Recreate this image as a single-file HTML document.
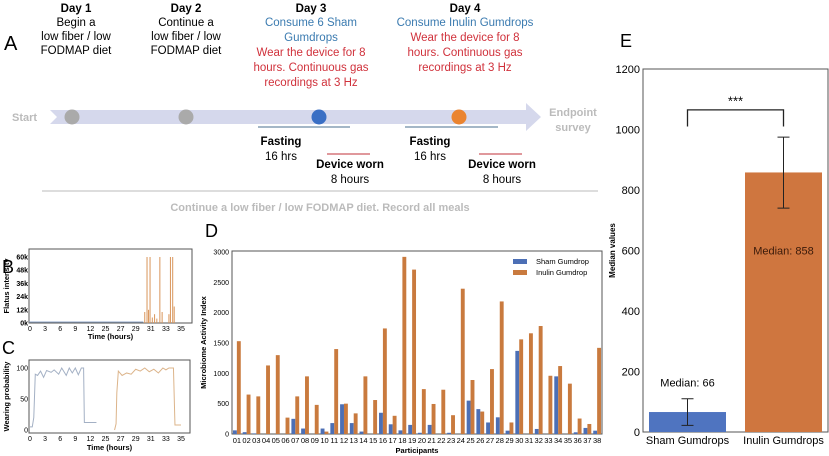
<!DOCTYPE html>
<html><head><meta charset="utf-8"><style>
body{margin:0;background:#fff;width:829px;height:456px;overflow:hidden;font-family:"Liberation Sans",sans-serif}
svg{position:absolute;left:0;top:0}
</style></head><body>
<svg id="s" width="829" height="456" viewBox="0 0 829 456" font-family="Liberation Sans, sans-serif">
<g>
<text x="4" y="50" font-size="20">A</text>
<g font-size="11.5" text-anchor="middle">
<text x="76" y="12" font-weight="bold">Day 1</text>
<text x="76" y="26">Begin a</text>
<text x="76" y="40">low fiber / low</text>
<text x="76" y="54">FODMAP diet</text>
<text x="186" y="12" font-weight="bold">Day 2</text>
<text x="186" y="26">Continue a</text>
<text x="186" y="40">low fiber / low</text>
<text x="186" y="54">FODMAP diet</text>
<text x="311" y="12" font-weight="bold">Day 3</text>
<text x="311" y="26" fill="#3b7bb0">Consume 6 Sham</text>
<text x="311" y="41" fill="#3b7bb0">Gumdrops</text>
<text x="311" y="56" fill="#d0313b">Wear the device for 8</text>
<text x="311" y="71" fill="#d0313b">hours. Continuous gas</text>
<text x="311" y="86" fill="#d0313b">recordings at 3 Hz</text>
<text x="465" y="12" font-weight="bold">Day 4</text>
<text x="465" y="26" fill="#3b7bb0">Consume Inulin Gumdrops</text>
<text x="465" y="41" fill="#d0313b">Wear the device for 8</text>
<text x="465" y="56" fill="#d0313b">hours. Continuous gas</text>
<text x="465" y="71" fill="#d0313b">recordings at 3 Hz</text>
</g>
<text x="12" y="121" font-size="11" font-weight="bold" fill="#bbb">Start</text>
<polygon points="50,110 526,110 526,103 541,117 526,131 526,124 50,124 57,117" fill="#d5d8ec"/>
<text x="573" y="116" font-size="11" font-weight="bold" fill="#bbb" text-anchor="middle">Endpoint</text>
<text x="573" y="131" font-size="11" font-weight="bold" fill="#bbb" text-anchor="middle">survey</text>
<circle cx="72" cy="117" r="7.5" fill="#aaa"/>
<circle cx="186" cy="117" r="7.5" fill="#aaa"/>
<circle cx="319" cy="117" r="7.5" fill="#3a6fc4"/>
<circle cx="459" cy="117" r="7.5" fill="#ea8430"/>
<g stroke="#4a6f8f" stroke-width="1"><line x1="258" y1="127" x2="350" y2="127"/><line x1="405" y1="127" x2="498" y2="127"/></g>
<g stroke="#c0303a" stroke-width="1"><line x1="327" y1="154" x2="370" y2="154"/><line x1="479" y1="154" x2="522" y2="154"/></g>
<g font-size="11.5" text-anchor="middle">
<text x="281" y="145" font-weight="bold">Fasting</text>
<text x="281" y="160">16 hrs</text>
<text x="350" y="168" font-weight="bold">Device worn</text>
<text x="350" y="183">8 hours</text>
<text x="430" y="145" font-weight="bold">Fasting</text>
<text x="430" y="160">16 hrs</text>
<text x="502" y="168" font-weight="bold">Device worn</text>
<text x="502" y="183">8 hours</text>
</g>
<line x1="42" y1="191" x2="598" y2="191" stroke="#bbb"/>
<text x="320" y="211" font-size="11" font-weight="bold" fill="#bbb" text-anchor="middle">Continue a low fiber / low FODMAP diet. Record all meals</text>
</g>
<text x="2" y="273" font-size="18">B</text>
<text x="2" y="354" font-size="18">C</text>
<text x="205" y="237" font-size="18">D</text>
<text x="620" y="47" font-size="18">E</text>
<g id="gB"></g>
<g id="gC"></g>
<g id="gD"></g>
<g id="gE"></g>
</svg>
<script>
const timeTicks=["0","3","6","9","12","25","27","29","31","33","35"];
const bYTicks=["0k","12k","24k","36k","48k","60k"];
const bSpikeIdx=[7.6,7.75,7.85,7.95,8.1,8.25,8.4,8.6,8.75,9.2,9.3,9.45,9.55];
const bSpikeVal=[10,60,12,60,5,8,4,60,10,8,60,60,15];
const cShamT=[0,0.15,0.25,0.35,0.5,0.7,0.9,1.1,1.4,1.6,1.9,2.1,2.4,2.6,2.8,3.0,3.2,3.4,3.55,3.6,3.8,4.4];
const cShamV=[5,5,20,90,88,95,85,96,93,97,90,100,88,100,92,100,89,100,100,12,12,12];
const cInuT=[5.6,5.7,5.75,5.85,6.1,6.4,6.7,7.0,7.3,7.6,7.9,8.2,8.5,8.8,9.0,9.2,9.5,9.6,10.0];
const cInuV=[0,10,60,95,88,92,90,98,95,100,94,98,92,100,97,100,100,8,8];
const dCats=["01","02","03","04","05","06","07","08","09","10","11","12","13","14","15","16","17","18","19","20","21","22","23","24","25","26","27","28","29","30","31","32","33","34","35","36","37","38"];
const dSham=[60,30,10,0,0,0,250,90,0,90,180,490,180,40,0,350,160,60,150,20,150,0,20,0,550,410,190,275,55,1370,0,83,0,950,0,28,100,55];
const dInulin=[1530,650,620,1130,1300,270,620,950,480,40,1400,500,340,950,560,1740,300,2920,2710,740,495,730,310,2395,890,370,1070,2185,190,1560,1660,1780,960,1120,830,255,165,1420];
const dYTicks=[0,500,1000,1500,2000,2500,3000];
const eCats=["Sham Gumdrops","Inulin Gumdrops"];
const eVals=[66,858];
const eLow=[22,740];
const eHigh=[110,975];
const eYTicks=[0,200,400,600,800,1000,1200];
const NS="http://www.w3.org/2000/svg";
function mk(p,t,a,txt){const e=document.createElementNS(NS,t);for(const k in a)e.setAttribute(k,a[k]);if(txt!==undefined)e.textContent=txt;p.appendChild(e);return e;}
// Panel B
(function(){const g=document.getElementById('gB');const L=29,R=192,T=249,Bt=323;
const x=i=>L+1+i*(181-L-1)/10, y=v=>Bt-v/60*(Bt-T-8);
let r=mk(g,'rect',{x:L,y:T,width:R-L,height:Bt-T,fill:'none',stroke:'#555'});
let bl=mk(g,'line',{x1:L,y1:Bt-1,x2:x(7.5),y2:Bt-1,stroke:'#8fa6c8'});
timeTicks.forEach((t,i)=>{let e=mk(g,'text',{x:x(i),y:Bt+8,'font-size':7,'text-anchor':'middle'},t);});
bYTicks.forEach((t,i)=>{let e=mk(g,'text',{x:L-1,y:y(i*12)+2.5,'font-size':7,'font-weight':'bold','text-anchor':'end'},t);});
bSpikeIdx.forEach((t,i)=>{let e=mk(g,'line',{x1:x(t),y1:Bt,x2:x(t),y2:y(bSpikeVal[i]),stroke:'#d9955a','stroke-width':1});});
let xl=mk(g,'text',{x:(L+R)/2,y:Bt+16,'font-size':7.5,'font-weight':'bold','text-anchor':'middle'},'Time (hours)');
let yl=mk(g,'text',{transform:`translate(9,${(T+Bt)/2}) rotate(-90)`,'font-size':7.5,'font-weight':'bold','text-anchor':'middle'},'Flatus intensity');})();
// Panel C
(function(){const g=document.getElementById('gC');const L=29,R=190,T=360,Bt=433;
const x=i=>L+1+i*(181-L-1)/10, y=v=>Bt-3-v/100*(Bt-T-11);
let r=mk(g,'rect',{x:L,y:T,width:R-L,height:Bt-T,fill:'none',stroke:'#555'});
timeTicks.forEach((t,i)=>{let e=mk(g,'text',{x:x(i),y:Bt+8,'font-size':7,'text-anchor':'middle'},t);});
[0,50,100].forEach(v=>{let e=mk(g,'text',{x:L-1,y:y(v)+2.5,'font-size':7,'text-anchor':'end'},String(v));});
let p1=mk(g,'polyline',{points:cShamT.map((t,i)=>x(t)+','+y(cShamV[i])).join(' '),fill:'none',stroke:'#a3b0c4'});
let p2=mk(g,'polyline',{points:cInuT.map((t,i)=>x(t)+','+y(cInuV[i])).join(' '),fill:'none',stroke:'#dcb48a'});
let xl=mk(g,'text',{x:(L+R)/2,y:Bt+17,'font-size':7.5,'font-weight':'bold','text-anchor':'middle'},'Time (hours)');
let yl=mk(g,'text',{transform:`translate(9,${(T+Bt)/2}) rotate(-90)`,'font-size':7.5,'font-weight':'bold','text-anchor':'middle'},'Wearing probability');})();
// Panel D
(function(){const g=document.getElementById('gD');const L=232,R=602,T=251,Bt=434;
const step=(R-L)/dCats.length,bw=step*0.4;const y=v=>Bt-v/3000*(Bt-T-1);
let r=mk(g,'rect',{x:L,y:T,width:R-L,height:Bt-T,fill:'none',stroke:'#555'});
dCats.forEach((c,i)=>{const cx=L+step*(i+0.5);
let a=mk(g,'rect',{x:cx-bw,y:y(dSham[i]),width:bw,height:Bt-y(dSham[i]),fill:'#4c6fb5'});
let b=mk(g,'rect',{x:cx,y:y(dInulin[i]),width:bw,height:Bt-y(dInulin[i]),fill:'#c97a3e'});
let t=mk(g,'text',{x:cx,y:Bt+9,'font-size':7.5,'text-anchor':'middle'},c);});
dYTicks.forEach(v=>{let e=mk(g,'text',{x:L-3,y:y(v)+2.5,'font-size':7,'text-anchor':'end'},String(v));});
let xl=mk(g,'text',{x:(L+R)/2,y:Bt+19,'font-size':7.5,'font-weight':'bold','text-anchor':'middle'},'Participants');
let yl=mk(g,'text',{transform:`translate(206,${(T+Bt)/2}) rotate(-90)`,'font-size':7.5,'font-weight':'bold','text-anchor':'middle'},'Microbiome Activity Index');
[['Sham Gumdrop','#4c6fb5'],['Inulin Gumdrop','#c97a3e']].forEach((l,i)=>{let s=mk(g,'rect',{x:513,y:259+i*11,width:14,height:5,fill:l[1]});
let t=mk(g,'text',{x:536,y:264+i*11,'font-size':7.5},l[0]);});})();
// Panel E
(function(){const g=document.getElementById('gE');const L=643,R=828,T=69,Bt=432;
const y=v=>Bt-v/1200*(Bt-T);const cx=[687.5,783.5],bw=77;const cols=['#4f74c0','#cf763f'];
let r=mk(g,'rect',{x:L,y:T,width:R-L,height:Bt-T,fill:'none',stroke:'#555'});
eYTicks.forEach(v=>{let e=mk(g,'text',{x:L-3,y:y(v)+4,'font-size':11,'text-anchor':'end'},String(v));});
eCats.forEach((c,i)=>{let b=mk(g,'rect',{x:cx[i]-bw/2,y:y(eVals[i]),width:bw,height:Bt-y(eVals[i]),fill:cols[i]});
let er=mk(g,'path',{d:`M${cx[i]} ${y(eLow[i])}V${y(eHigh[i])}M${cx[i]-6} ${y(eLow[i])}h12M${cx[i]-6} ${y(eHigh[i])}h12`,stroke:'#222',fill:'none'});
let t=mk(g,'text',{x:cx[i],y:Bt+12,'font-size':11,'text-anchor':'middle'},c);});
let m1=mk(g,'text',{x:cx[0],y:y(eHigh[0])-12,'font-size':11,'text-anchor':'middle'},'Median:  '+eVals[0]);
let m2=mk(g,'text',{x:cx[1],y:y(600)+4,'font-size':11,'text-anchor':'middle','fill':'#3a1a0a'},'Median:  '+eVals[1]);
let br=mk(g,'path',{d:`M${cx[0]} ${y(1010)}V${y(1065)}H${cx[1]}V${y(1010)}`,stroke:'#222','stroke-width':1.3,fill:'none'});
let st=mk(g,'text',{x:(cx[0]+cx[1])/2,y:y(1080),'font-size':13,'text-anchor':'middle'},'***');
let yl=mk(g,'text',{transform:`translate(615,${(T+Bt)/2}) rotate(-90)`,'font-size':8,'font-weight':'bold','text-anchor':'middle'},'Median values');})();
</script>
</body></html>
